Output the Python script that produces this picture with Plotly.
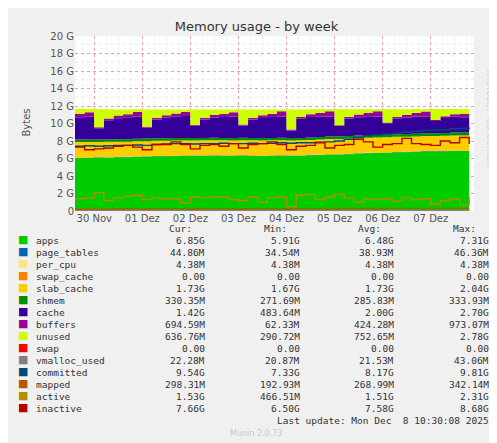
import plotly.graph_objects as go

# time in days since start of the graph, one sample every 0.2 day
t = [round(i * 0.2, 1) for i in range(42)]
day_ticks = [0.4, 1.4, 2.4, 3.4, 4.4, 5.4, 6.4, 7.4]
day_labels = ["30 Nov", "01 Dez", "02 Dez", "03 Dez", "04 Dez", "05 Dez", "06 Dez", "07 Dez"]

# stacked areas, in G
apps = [6.05, 6.08, 6.1, 6.12, 6.15, 6.15, 6.2, 6.22, 6.25, 6.25, 6.28, 6.3, 6.3, 6.3, 6.32, 6.3, 6.3, 6.32, 6.3, 6.28, 6.3,
        6.32, 6.3, 6.3, 6.35, 6.4, 6.45, 6.45, 6.5, 6.55, 6.6, 6.62, 6.65, 6.7, 6.72, 6.75, 6.8, 6.8, 6.82, 6.85, 6.85, 6.85]
page_tables = [0.035, 0.035, 0.036, 0.036, 0.037, 0.037, 0.037, 0.038, 0.038, 0.038, 0.038, 0.039, 0.039, 0.039, 0.039, 0.039,
               0.039, 0.039, 0.039, 0.039, 0.039, 0.039, 0.039, 0.039, 0.04, 0.04, 0.04, 0.04, 0.04, 0.041, 0.041, 0.042, 0.042,
               0.042, 0.043, 0.043, 0.044, 0.044, 0.044, 0.045, 0.045, 0.045]
per_cpu = [0.0044] * 42
swap_cache = [0.0] * 42
slab_cache = [1.8, 1.78, 1.75, 1.74, 1.73, 1.73, 1.73, 1.72, 1.73, 1.73, 1.73, 1.72, 1.72, 1.73, 1.73, 1.73, 1.72, 1.72, 1.73,
              1.73, 1.73, 1.72, 1.72, 1.73, 1.73, 1.73, 1.72, 1.72, 1.73, 1.73, 1.73, 1.72, 1.72, 1.73, 1.73, 1.73, 1.72, 1.72,
              1.73, 1.73, 1.73, 1.73]
shmem = [0.28, 0.28, 0.28, 0.28, 0.28, 0.28, 0.29, 0.29, 0.28, 0.28, 0.28, 0.28, 0.29, 0.28, 0.28, 0.28, 0.28, 0.29, 0.28, 0.28,
         0.28, 0.28, 0.29, 0.28, 0.28, 0.28, 0.29, 0.29, 0.29, 0.29, 0.29, 0.3, 0.3, 0.3, 0.3, 0.31, 0.31, 0.32, 0.32, 0.33, 0.33, 0.33]
cache = [2.55, 2.6, 1.3, 2.2, 2.4, 2.5, 2.55, 1.25, 2.15, 2.35, 2.45, 2.5, 1.4, 2.1, 2.3, 2.4, 2.45, 1.4, 2.1, 2.3, 2.4, 2.45,
         0.85, 2.2, 2.35, 2.35, 2.3, 1.2, 2.0, 2.1, 2.15, 2.1, 1.3, 1.8, 1.9, 1.95, 1.9, 1.4, 1.7, 1.8, 1.75, 1.42]
buffers = [0.4, 0.5, 0.1, 0.2, 0.3, 0.35, 0.5, 0.1, 0.2, 0.3, 0.35, 0.5, 0.1, 0.2, 0.3, 0.35, 0.5, 0.1, 0.2, 0.3, 0.35, 0.6,
           0.1, 0.2, 0.3, 0.4, 0.6, 0.1, 0.2, 0.3, 0.4, 0.6, 0.1, 0.2, 0.3, 0.4, 0.6, 0.1, 0.2, 0.3, 0.4, 0.69]
unused = [0.56, 0.38, 2.06, 1.04, 0.71, 0.56, 0.31, 1.99, 0.96, 0.66, 0.48, 0.26, 1.76, 0.96, 0.64, 0.51, 0.31, 1.74, 0.96, 0.68,
          0.51, 0.19, 2.31, 0.86, 0.56, 0.41, 0.21, 1.81, 0.86, 0.61, 0.41, 0.24, 1.51, 0.86, 0.64, 0.46, 0.26, 1.26, 0.84, 0.61,
          0.56, 0.6]

# lines, in G
swap = [0.0] * 42
vmalloc_used = [0.021] * 42
committed = [7.4, 7.45, 7.4, 7.45, 7.5, 7.5, 7.55, 7.5, 7.6, 7.65, 7.7, 7.7, 7.65, 7.7, 7.7, 7.75, 7.7, 7.7, 7.75, 7.7, 7.75,
             7.8, 7.75, 7.8, 7.8, 7.85, 7.9, 8.0, 8.2, 8.4, 8.6, 8.7, 8.8, 8.9, 9.0, 9.1, 9.2, 9.25, 9.3, 9.4, 9.45, 9.54]
mapped = [0.2, 0.2, 0.21, 0.22, 0.25, 0.26, 0.27, 0.26, 0.27, 0.27, 0.27, 0.27, 0.26, 0.27, 0.27, 0.27, 0.27, 0.26, 0.27, 0.27,
          0.27, 0.27, 0.26, 0.27, 0.27, 0.27, 0.28, 0.28, 0.29, 0.29, 0.29, 0.29, 0.3, 0.3, 0.3, 0.3, 0.3, 0.3, 0.3, 0.3, 0.3, 0.3]
active = [1.4, 1.5, 2.1, 1.2, 1.5, 1.7, 1.8, 1.3, 1.5, 1.4, 1.4, 0.9, 1.6, 1.5, 1.6, 1.6, 1.3, 1.2, 1.6, 1.0, 1.5, 1.6, 0.5,
          1.8, 1.9, 1.3, 1.6, 1.9, 1.5, 1.0, 1.4, 1.3, 1.4, 1.1, 1.5, 1.3, 1.4, 0.8, 1.2, 1.4, 0.7, 1.53]
inactive = [7.3, 7.0, 7.1, 7.2, 7.4, 7.5, 7.3, 7.0, 7.6, 7.6, 7.9, 7.6, 7.1, 7.5, 7.6, 7.4, 7.7, 7.2, 7.6, 7.7, 7.9, 7.6, 7.0,
            7.4, 7.5, 7.8, 7.2, 7.5, 7.6, 8.2, 7.9, 7.3, 7.6, 7.7, 8.3, 7.7, 7.6, 7.5, 8.0, 7.8, 8.4, 7.66]

areas = [("apps", apps, "#00CC00"), ("page_tables", page_tables, "#0066B3"), ("per_cpu", per_cpu, "#FFE680"),
         ("swap_cache", swap_cache, "#FF8000"), ("slab_cache", slab_cache, "#FFCC00"), ("shmem", shmem, "#008F00"),
         ("cache", cache, "#330099"), ("buffers", buffers, "#990099"), ("unused", unused, "#CCFF00")]
lines = [("swap", swap, "#FF0000"), ("vmalloc_used", vmalloc_used, "#808080"), ("committed", committed, "#00487D"),
         ("mapped", mapped, "#B35A00"), ("active", active, "#B38F00"), ("inactive", inactive, "#B30000")]

stats = {
    "apps": ["6.85G", "5.91G", "6.48G", "7.31G"],
    "page_tables": ["44.86M", "34.54M", "38.93M", "46.36M"],
    "per_cpu": ["4.38M", "4.38M", "4.38M", "4.38M"],
    "swap_cache": ["0.00", "0.00", "0.00", "0.00"],
    "slab_cache": ["1.73G", "1.67G", "1.73G", "2.04G"],
    "shmem": ["330.35M", "271.69M", "285.83M", "333.93M"],
    "cache": ["1.42G", "483.64M", "2.00G", "2.70G"],
    "buffers": ["694.59M", "62.33M", "424.28M", "973.07M"],
    "unused": ["636.76M", "290.72M", "752.65M", "2.78G"],
    "swap": ["0.00", "0.00", "0.00", "0.00"],
    "vmalloc_used": ["22.28M", "20.87M", "21.53M", "43.06M"],
    "committed": ["9.54G", "7.33G", "8.17G", "9.81G"],
    "mapped": ["298.31M", "192.93M", "268.99M", "342.14M"],
    "active": ["1.53G", "466.51M", "1.51G", "2.31G"],
    "inactive": ["7.66G", "6.50G", "7.58G", "8.68G"],
}

W, H = 497, 443
L, R, T, B = 67, 466, 28, 203

fig = go.Figure()
for name, vals, col in areas:
    fig.add_trace(go.Scatter(x=t, y=vals, name=name, stackgroup="one", mode="none",
                             fillcolor=col, line=dict(shape="hv")))
for name, vals, col in lines:
    fig.add_trace(go.Scatter(x=t, y=vals, name=name, mode="lines",
                             line=dict(color=col, width=1.4, shape="hv")))


def px(x, y):
    return (x - L) / (R - L), (B - y) / (B - T)


mono = dict(family="DejaVu Sans Mono", size=9.5, color="#333333")
ann = []
for head, xr in [("Cur:", 186), ("Min:", 281), ("Avg:", 375), ("Max:", 470)]:
    ax, ay = px(xr, 228)
    ann.append(dict(x=ax, y=ay, text=head, xanchor="right", font=mono))
for k, (name, vals, col) in enumerate(areas + lines):
    yy = 240 + k * 12
    ax, ay = px(15, yy)
    ann.append(dict(x=ax, y=ay, text="■", font=dict(size=11, color=col), xanchor="center"))
    ax, ay = px(26, yy)
    ann.append(dict(x=ax, y=ay, text=name, xanchor="left", font=mono))
    for v, xr in zip(stats[name], [199, 294, 388, 483]):
        ax, ay = px(xr, yy)
        ann.append(dict(x=ax, y=ay, text=v, xanchor="right", font=mono))
ax, ay = px(483, 420)
ann.append(dict(x=ax, y=ay, text="Last update: Mon Dec  8 10:30:08 2025", xanchor="right", font=mono))
ax, ay = px(248, 432)
ann.append(dict(x=ax, y=ay, text="Munin 2.0.73", font=dict(family="DejaVu Sans", size=8, color="#c8c8c8")))
ax, ay = px(488, 60)
ann.append(dict(x=ax, y=ay, text="RRDTOOL / TOBI OETIKER", textangle=90, yanchor="top",
                font=dict(family="DejaVu Sans", size=7.5, color="#cccccc")))
ax, ay = px(10, 115)
ann.append(dict(x=ax, y=ay, text="Bytes", textangle=-90, font=dict(family="DejaVu Sans", size=10, color="#555555")))
for a in ann:
    a.update(xref="paper", yref="paper", showarrow=False)

fig.update_layout(
    width=W, height=H, margin=dict(l=L, r=W - R, t=T, b=H - B),
    paper_bgcolor="#f0f0f0", plot_bgcolor="#ffffff", showlegend=False,
    title=dict(text="Memory usage - by week", x=0.5, y=1 - 18 / H, xanchor="center", yanchor="middle",
               font=dict(family="DejaVu Sans", size=13, color="#333333")),
    font=dict(family="DejaVu Sans", size=10, color="#555555"),
    xaxis=dict(range=[0, 8.3], tickvals=day_ticks, ticktext=day_labels, showgrid=True,
               gridcolor="#e8a0a0", griddash="dot", gridwidth=1, zeroline=False, showline=False, ticks="",
               minor=dict(dtick=0.25, tick0=0.4, showgrid=True, gridcolor="#ececec", griddash="dot", gridwidth=1),
               tickfont=dict(size=10)),
    yaxis=dict(range=[0, 20], tickvals=list(range(0, 21, 2)),
               ticktext=["0"] + [f"{v} G" for v in range(2, 21, 2)],
               showgrid=True, gridcolor="#e8a0a0", griddash="dot", gridwidth=1, zeroline=False, showline=False,
               minor=dict(dtick=1, showgrid=True, gridcolor="#ececec", griddash="dot", gridwidth=1),
               tickfont=dict(size=10)),
    annotations=ann,
)
fig.write_html("out.html")
